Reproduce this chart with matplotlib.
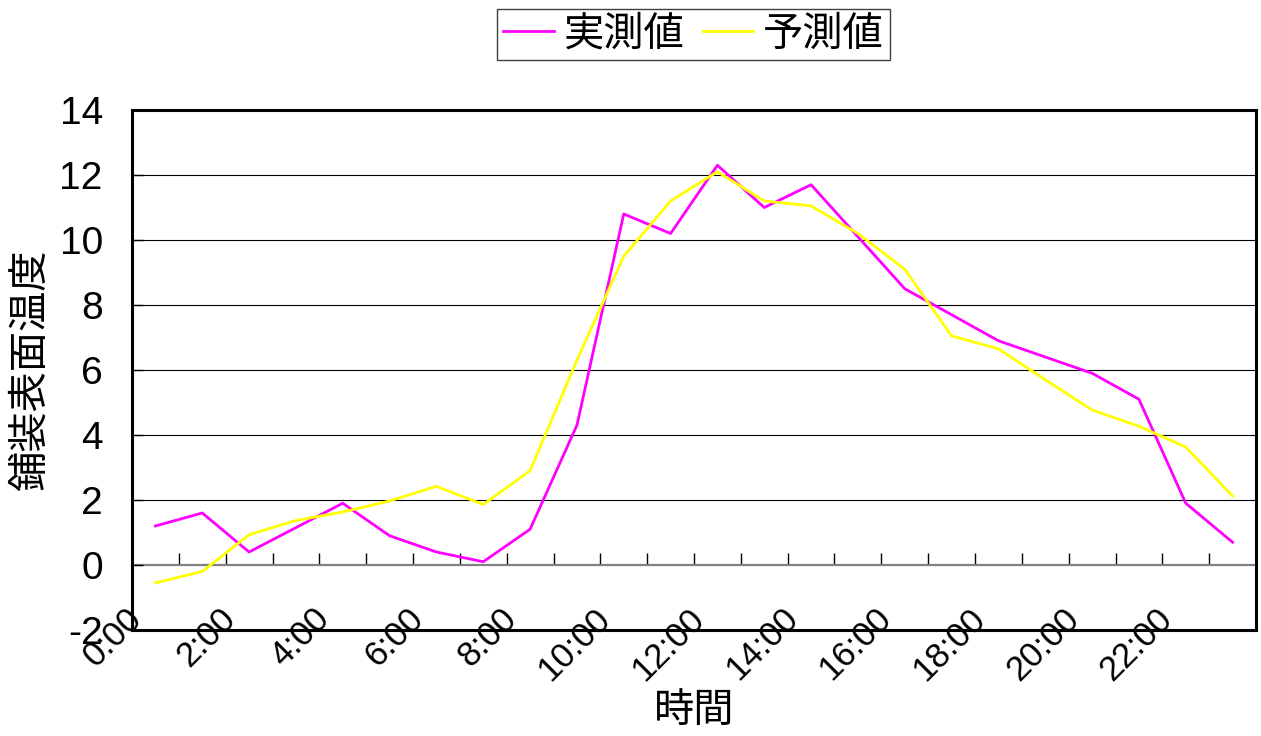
import matplotlib
matplotlib.use("Agg")
import matplotlib.pyplot as plt
import numpy as np
from matplotlib.transforms import ScaledTranslation

plt.rcParams["font.family"] = ["Liberation Sans", "Noto Sans CJK JP"]
plt.rcParams["axes.unicode_minus"] = False

# Hourly pavement surface temperature: measured vs. predicted
hours = [f"{h}:00" for h in range(24)]
measured = [1.2, 1.6, 0.4, 1.15, 1.9, 0.9, 0.4, 0.1, 1.1, 4.3, 10.8, 10.2,
            12.3, 11.0, 11.7, 10.1, 8.5, 7.7, 6.9, 6.4, 5.9, 5.1, 1.9, 0.7]
predicted = [-0.55, -0.2, 0.93, 1.37, 1.63, 1.97, 2.42, 1.86, 2.9, 6.3, 9.5, 11.2,
             12.1, 11.2, 11.05, 10.2, 9.1, 7.05, 6.65, 5.7, 4.77, 4.27, 3.63, 2.12]
y_ticks = [-2, 0, 2, 4, 6, 8, 10, 12, 14]
series_names = ["実測値", "予測値"]
series_colors = ["#FF00FF", "#FFFF00"]

W, H = 1261, 736
fig = plt.figure(figsize=(W / 100, H / 100), dpi=100)
left, right, top, bottom = 132, 1256, 110, 630
ax = fig.add_axes([left / W, 1 - bottom / H, (right - left) / W, (bottom - top) / H])

n = len(hours)
x = np.arange(n) + 0.5
ymin, ymax = y_ticks[0], y_ticks[-1]
ax.set_xlim(0, n)
ax.set_ylim(ymin, ymax)

# horizontal gridlines
for yv in y_ticks[1:-1]:
    if yv != 0:
        ax.axhline(yv, color="black", lw=0.8, zorder=1)

lines = []
for vals, name, col in zip([measured, predicted], series_names, series_colors):
    ln, = ax.plot(x, vals, color=col, lw=2.0, label=name, zorder=3)
    lines.append(ln)

# category axis drawn across y = 0 with inward tick marks
sec = ax.secondary_xaxis((0 - ymin) / (ymax - ymin))
sec.set_xticks(range(1, n))
sec.tick_params(axis="x", direction="in", length=9, width=1, color="black",
                labelbottom=False, labeltop=False)
sec.spines["bottom"].set_color("#808080")
sec.spines["bottom"].set_linewidth(1.6)
sec.spines["bottom"].set_zorder(2)

# frame
for sp in ax.spines.values():
    sp.set_linewidth(2.2)
    sp.set_color("black")

# y axis
ax.set_yticks(y_ticks)
ax.set_yticklabels([str(v) for v in y_ticks])
ax.tick_params(axis="y", direction="in", length=8, width=1, pad=21, labelsize=28)

# x tick labels, rotated, straddling the bottom frame
ax.set_xticks(range(0, n, 2))
ax.set_xticklabels(hours[::2])
ax.tick_params(axis="x", length=0, pad=-12, labelsize=25)
shift = ScaledTranslation(5 / 100, 0, fig.dpi_scale_trans)
for lab in ax.get_xticklabels():
    lab.set_rotation(45)
    lab.set_ha("right")
    lab.set_va("center")
    lab.set_rotation_mode("anchor")
    lab.set_transform(lab.get_transform() + shift)

# axis titles
ax.set_ylabel("鋪装表面温度", fontsize=29)
ax.yaxis.label.set_va("center")
ax.yaxis.set_label_coords((31 - left) / (right - left), 0.5)
ax.set_xlabel("時間", fontsize=29)
ax.xaxis.label.set_va("center")
ax.xaxis.set_label_coords((694 - left) / (right - left), (bottom - 711) / (bottom - top))

leg = fig.legend(handles=lines, loc="center", ncol=2,
                 bbox_to_anchor=(693.5 / W, 1 - 34.5 / H), bbox_transform=fig.transFigure,
                 fontsize=29, frameon=True, fancybox=False, framealpha=1,
                 edgecolor="#404040", handlelength=1.25, handletextpad=0.25,
                 columnspacing=0.45, borderpad=0.15, borderaxespad=0)
leg.get_frame().set_linewidth(1.0)

fig.savefig("out.png", dpi=100)
